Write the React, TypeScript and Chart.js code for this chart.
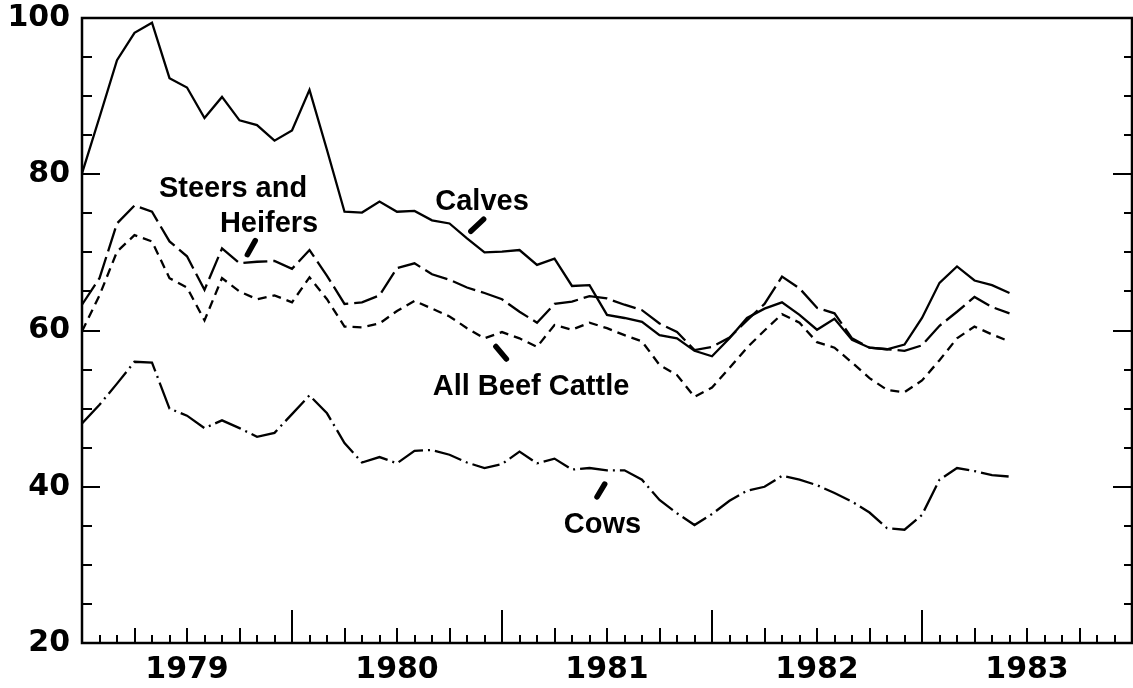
import React, { useEffect, useRef } from "react";
import { Chart, registerables } from "chart.js";

Chart.register(...registerables);

// Monthly index values, month 0 = January 1979
const calves = [
  80.1, 87.3, 94.6, 98.1, 99.4, 92.3, 91.1, 87.2, 89.9, 86.9, 86.3, 84.3,
  85.6, 90.8, 83.1, 75.2, 75.1, 76.5, 75.2, 75.3, 74.1, 73.7, 71.8, 70.0,
  70.1, 70.3, 68.4, 69.2, 65.7, 65.8, 62.0, 61.6, 61.1, 59.4, 59.0, 57.4,
  56.7, 59.0, 61.6, 62.8, 63.6, 62.0, 60.1, 61.5, 58.8, 57.8, 57.6, 58.2,
  61.6, 66.1, 68.2, 66.4, 65.8, 64.8,
];
const steersHeifers = [
  63.3, 66.7, 73.7, 76.0, 75.2, 71.4, 69.5, 65.2, 70.5, 68.6, 68.8, 68.9,
  67.9, 70.3, 67.0, 63.4, 63.6, 64.5, 68.0, 68.6, 67.2, 66.5, 65.5, 64.8,
  64.0, 62.4, 61.0, 63.4, 63.7, 64.4, 64.1, 63.3, 62.6, 60.9, 59.8, 57.5,
  57.9, 59.1, 61.3, 63.4, 66.9, 65.4, 62.9, 62.2, 59.0, 57.8, 57.6, 57.4,
  58.1, 60.6, 62.4, 64.3, 63.0, 62.2,
];
const allBeefCattle = [
  59.9, 64.5, 70.1, 72.2, 71.4, 66.7, 65.5, 61.3, 66.7, 65.0, 64.0, 64.5,
  63.6, 66.8, 64.0, 60.5, 60.4, 60.9, 62.5, 63.8, 62.8, 61.8, 60.3, 59.0,
  59.8, 59.0, 57.9, 60.7, 60.1, 61.0, 60.3, 59.4, 58.6, 55.6, 54.3, 51.5,
  52.7, 55.2, 57.8, 60.0, 62.1, 61.0, 58.5, 57.8, 55.9, 53.9, 52.4, 52.1,
  53.6, 56.2, 59.0, 60.5, 59.5, 58.6,
];
const cows = [
  48.1, 50.5, 53.2, 56.0, 55.9, 50.0, 49.1, 47.5, 48.5, 47.5, 46.4, 46.9,
  49.3, 51.7, 49.4, 45.6, 43.1, 43.8, 43.0, 44.6, 44.7, 44.1, 43.1, 42.4,
  42.9, 44.5, 43.0, 43.6, 42.2, 42.4, 42.1, 42.1, 40.9, 38.3, 36.6, 35.1,
  36.5, 38.2, 39.5, 40.0, 41.4, 40.9, 40.2, 39.2, 38.1, 36.7, 34.7, 34.5,
  36.4, 40.9, 42.4, 42.0, 41.5, 41.3,
];

const yearLabels = ["1979", "1980", "1981", "1982", "1983"];
const yearLabelMonths = [6, 18, 30, 42, 54];
const totalMonths = 60;
const yMin = 20;
const yMax = 100;

const seriesNames = ["Calves", "Steers and Heifers", "All Beef Cattle", "Cows"];

// Callout text, placed in data coordinates (month, value)
const callouts = [
  { text: "Steers and", m: 8.63, v: 77.1 },
  { text: "Heifers", m: 10.69, v: 72.65 },
  { text: "Calves", m: 22.86, v: 75.4 },
  { text: "All Beef Cattle", m: 25.66, v: 51.74 },
  { text: "Cows", m: 29.74, v: 34.04 },
];
const pointers = [
  { m1: 9.45, v1: 69.7, m2: 9.9, v2: 71.5 },
  { m1: 22.22, v1: 72.7, m2: 22.95, v2: 74.25 },
  { m1: 23.65, v1: 57.95, m2: 24.25, v2: 56.35 },
  { m1: 29.43, v1: 38.7, m2: 29.87, v2: 40.35 },
];

const toPoints = (arr: number[]) => arr.map((v, i) => ({ x: i, y: v }));

const framePlugin = {
  id: "frameTicks",
  afterDatasetsDraw(chart: any) {
    const { ctx, chartArea: a, scales } = chart;
    const xs = scales.x;
    const ys = scales.y;
    ctx.save();
    ctx.strokeStyle = "#000";
    ctx.lineCap = "butt";
    ctx.lineWidth = 2;
    ctx.beginPath();
    for (let m = 0; m <= totalMonths; m++) {
      const x = Math.round(xs.getPixelForValue(m));
      const len = m % 12 === 0 ? 33 : m % 3 === 0 ? 15 : 8;
      ctx.moveTo(x, a.bottom);
      ctx.lineTo(x, a.bottom - len);
    }
    for (let v = yMin; v <= yMax; v += 5) {
      const y = Math.round(ys.getPixelForValue(v));
      const major = v % 20 === 0;
      ctx.moveTo(a.left, y);
      ctx.lineTo(a.left + (major ? 18 : 10), y);
      ctx.moveTo(a.right, y);
      ctx.lineTo(a.right - (major ? 19 : 8), y);
    }
    ctx.stroke();
    ctx.lineWidth = 2.5;
    ctx.strokeRect(a.left, a.top, a.right - a.left, a.bottom - a.top);

    ctx.fillStyle = "#000";
    ctx.font = "bold 29px 'Liberation Sans', Arial, sans-serif";
    ctx.textAlign = "center";
    ctx.textBaseline = "alphabetic";
    for (const c of callouts) {
      ctx.fillText(c.text, xs.getPixelForValue(c.m), ys.getPixelForValue(c.v));
    }
    ctx.lineWidth = 5.5;
    ctx.lineCap = "round";
    ctx.beginPath();
    for (const p of pointers) {
      ctx.moveTo(xs.getPixelForValue(p.m1), ys.getPixelForValue(p.v1));
      ctx.lineTo(xs.getPixelForValue(p.m2), ys.getPixelForValue(p.v2));
    }
    ctx.stroke();
    ctx.restore();
  },
};

export default function App() {
  const ref = useRef<HTMLCanvasElement | null>(null);

  useEffect(() => {
    if (!ref.current) return;
    const tickFont = { family: "'DejaVu Sans', sans-serif", size: 30, weight: "bold" as const, lineHeight: 1 };
    const chart = new Chart(ref.current, {
      type: "line",
      data: {
        datasets: [
          { label: seriesNames[0], data: toPoints(calves), borderColor: "#000", borderWidth: 2.3, pointRadius: 0, fill: false },
          { label: seriesNames[1], data: toPoints(steersHeifers), borderColor: "#000", borderWidth: 2.3, borderDash: [24, 6], pointRadius: 0, fill: false },
          { label: seriesNames[2], data: toPoints(allBeefCattle), borderColor: "#000", borderWidth: 2.3, borderDash: [9, 6], pointRadius: 0, fill: false },
          { label: seriesNames[3], data: toPoints(cows), borderColor: "#000", borderWidth: 2.3, borderDash: [28, 5, 2, 5], pointRadius: 0, fill: false },
        ],
      },
      options: {
        animation: false,
        responsive: true,
        maintainAspectRatio: false,
        devicePixelRatio: 1,
        layout: { padding: { top: 18, right: 1, left: 0, bottom: 0 } },
        plugins: { legend: { display: false }, tooltip: { enabled: false } },
        elements: { line: { tension: 0 } },
        scales: {
          x: {
            type: "linear",
            position: "bottom",
            min: 0,
            max: totalMonths,
            grid: { display: false, drawTicks: false },
            border: { display: false },
            afterBuildTicks: (scale: any) => {
              scale.ticks = yearLabelMonths.map((v) => ({ value: v }));
            },
            afterFit: (scale: any) => {
              scale.height = 45;
              scale.paddingLeft = 0;
              scale.paddingRight = 0;
            },
            ticks: {
              autoSkip: false,
              maxRotation: 0,
              color: "#000",
              font: tickFont,
              padding: 12,
              callback: (value: any) => {
                const i = yearLabelMonths.indexOf(Number(value));
                return i >= 0 ? yearLabels[i] : "";
              },
            },
          },
          y: {
            type: "linear",
            min: yMin,
            max: yMax,
            grid: { display: false, drawTicks: false },
            border: { display: false },
            afterFit: (scale: any) => {
              scale.width = 82;
              scale.paddingTop = 0;
              scale.paddingBottom = 0;
            },
            ticks: { stepSize: 20, color: "#000", font: tickFont, padding: 12 },
          },
        },
      },
      plugins: [framePlugin],
    });
    return () => chart.destroy();
  }, []);

  return (
    <div style={{ position: "fixed", left: 0, top: 0, width: 1133, height: 688, background: "#fff" }}>
      <canvas ref={ref} />
    </div>
  );
}
